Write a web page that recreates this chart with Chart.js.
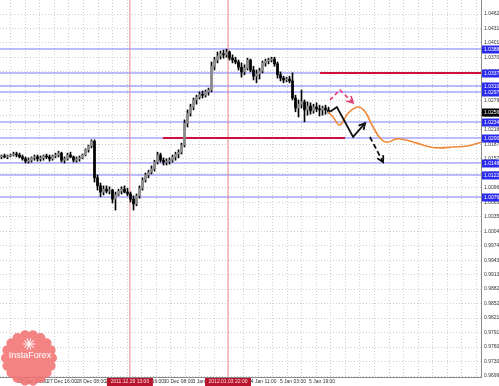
<!DOCTYPE html>
<html>
<head>
<meta charset="utf-8">
<script src="https://cdn.jsdelivr.net/npm/chart.js@4.4.1/dist/chart.umd.min.js"></script>
<style>
  html, body { margin: 0; padding: 0; background: #fff; }
  canvas { display: block; background: #fff; }
</style>
</head>
<body>
<canvas id="chart" width="499" height="386"></canvas>
<script>
// H1 candles, one entry per bar
const opens = [
  1.0161, 1.0163, 1.0161, 1.0163, 1.0165, 1.0167, 1.0165, 1.0161, 1.0157, 1.0152,
  1.0154, 1.0159, 1.0161, 1.0157, 1.0159, 1.0163, 1.0161, 1.0157, 1.0163, 1.0165,
  1.0169, 1.0154, 1.0157, 1.0165, 1.0161, 1.0154, 1.0157, 1.0159, 1.0165, 1.0176,
  1.0184, 1.0194, 1.0117, 1.0100, 1.0087, 1.0093, 1.0089, 1.0091, 1.0072, 1.0081,
  1.0089, 1.0093, 1.0087, 1.0083, 1.0072, 1.0062, 1.0079, 1.0095, 1.0112, 1.0123,
  1.0129, 1.0136, 1.0150, 1.0165, 1.0154, 1.0150, 1.0152, 1.0154, 1.0161, 1.0167,
  1.0171, 1.0186, 1.0232, 1.0253, 1.0266, 1.0281, 1.0287, 1.0293, 1.0291, 1.0298,
  1.0302, 1.0352, 1.0365, 1.0374, 1.0378, 1.0376, 1.0382, 1.0369, 1.0365, 1.0361,
  1.0350, 1.0340, 1.0348, 1.0365, 1.0344, 1.0331, 1.0336, 1.0342, 1.0359, 1.0363,
  1.0365, 1.0367, 1.0357, 1.0334, 1.0327, 1.0323, 1.0325, 1.0321, 1.0285, 1.0264,
  1.0272, 1.0277, 1.0260, 1.0268, 1.0258, 1.0266, 1.0262, 1.0260, 1.0264, 1.0260
];
const highs = [
  1.0165, 1.0167, 1.0165, 1.0167, 1.0171, 1.0171, 1.0169, 1.0165, 1.0161, 1.0159,
  1.0161, 1.0165, 1.0165, 1.0163, 1.0165, 1.0167, 1.0165, 1.0165, 1.0169, 1.0173,
  1.0171, 1.0161, 1.0169, 1.0171, 1.0163, 1.0161, 1.0163, 1.0167, 1.0178, 1.0186,
  1.0197, 1.0197, 1.0123, 1.0106, 1.0100, 1.0100, 1.0098, 1.0093, 1.0087, 1.0093,
  1.0098, 1.0100, 1.0095, 1.0087, 1.0079, 1.0083, 1.0100, 1.0117, 1.0127, 1.0133,
  1.0142, 1.0154, 1.0171, 1.0169, 1.0159, 1.0157, 1.0159, 1.0165, 1.0171, 1.0176,
  1.0190, 1.0239, 1.0260, 1.0272, 1.0285, 1.0291, 1.0298, 1.0300, 1.0302, 1.0306,
  1.0361, 1.0371, 1.0382, 1.0384, 1.0386, 1.0388, 1.0384, 1.0376, 1.0371, 1.0365,
  1.0359, 1.0355, 1.0369, 1.0367, 1.0352, 1.0344, 1.0348, 1.0363, 1.0367, 1.0369,
  1.0371, 1.0371, 1.0361, 1.0340, 1.0331, 1.0329, 1.0331, 1.0338, 1.0291, 1.0281,
  1.0302, 1.0281, 1.0277, 1.0275, 1.0272, 1.0275, 1.0270, 1.0268, 1.0270, 1.0266
];
const lows = [
  1.0157, 1.0159, 1.0157, 1.0161, 1.0163, 1.0161, 1.0159, 1.0154, 1.0148, 1.0148,
  1.0150, 1.0154, 1.0152, 1.0152, 1.0154, 1.0157, 1.0152, 1.0154, 1.0159, 1.0161,
  1.0150, 1.0148, 1.0154, 1.0159, 1.0150, 1.0150, 1.0152, 1.0157, 1.0163, 1.0171,
  1.0180, 1.0108, 1.0091, 1.0077, 1.0081, 1.0085, 1.0083, 1.0064, 1.0049, 1.0079,
  1.0083, 1.0085, 1.0079, 1.0066, 1.0049, 1.0058, 1.0074, 1.0091, 1.0108, 1.0117,
  1.0125, 1.0131, 1.0146, 1.0150, 1.0144, 1.0144, 1.0146, 1.0150, 1.0154, 1.0159,
  1.0167, 1.0182, 1.0224, 1.0247, 1.0260, 1.0272, 1.0283, 1.0285, 1.0287, 1.0291,
  1.0298, 1.0344, 1.0359, 1.0367, 1.0369, 1.0371, 1.0365, 1.0359, 1.0357, 1.0344,
  1.0329, 1.0334, 1.0344, 1.0340, 1.0323, 1.0317, 1.0325, 1.0338, 1.0352, 1.0357,
  1.0361, 1.0352, 1.0327, 1.0321, 1.0317, 1.0319, 1.0317, 1.0281, 1.0256, 1.0245,
  1.0264, 1.0235, 1.0249, 1.0251, 1.0253, 1.0256, 1.0247, 1.0249, 1.0251, 1.0253
];
const closes = [
  1.0163, 1.0161, 1.0163, 1.0165, 1.0167, 1.0165, 1.0161, 1.0157, 1.0152, 1.0154,
  1.0159, 1.0161, 1.0157, 1.0159, 1.0163, 1.0161, 1.0157, 1.0163, 1.0165, 1.0169,
  1.0154, 1.0157, 1.0165, 1.0161, 1.0154, 1.0157, 1.0159, 1.0165, 1.0176, 1.0184,
  1.0194, 1.0117, 1.0100, 1.0087, 1.0093, 1.0089, 1.0091, 1.0072, 1.0081, 1.0089,
  1.0093, 1.0087, 1.0083, 1.0072, 1.0062, 1.0079, 1.0095, 1.0112, 1.0123, 1.0129,
  1.0136, 1.0150, 1.0165, 1.0154, 1.0150, 1.0152, 1.0154, 1.0161, 1.0167, 1.0171,
  1.0186, 1.0232, 1.0253, 1.0266, 1.0281, 1.0287, 1.0293, 1.0291, 1.0298, 1.0302,
  1.0352, 1.0365, 1.0374, 1.0378, 1.0376, 1.0382, 1.0369, 1.0365, 1.0361, 1.0350,
  1.0340, 1.0348, 1.0365, 1.0344, 1.0331, 1.0336, 1.0342, 1.0359, 1.0363, 1.0365,
  1.0367, 1.0357, 1.0334, 1.0327, 1.0323, 1.0325, 1.0321, 1.0285, 1.0264, 1.0272,
  1.0277, 1.0260, 1.0268, 1.0258, 1.0266, 1.0262, 1.0260, 1.0264, 1.0260, 1.0256
];

// price axis labels
const yTicks = [
  1.04620, 1.04315, 1.04010, 1.03705, 1.03400, 1.03095, 1.02790, 1.02485, 1.02180,
  1.01875, 1.01570, 1.01265, 1.00960, 1.00655, 1.00350, 1.00045, 0.99740, 0.99435,
  0.99130, 0.98825, 0.98520, 0.98215, 0.97910, 0.97605, 0.97300, 0.96995
];
// time axis labels (positions in bars)
const xTickPos = [5.5, 15.2, 24.9, 34.6, 44.3, 54.0, 63.7, 73.4, 83.1, 92.8, 102.5];
const xTickLabels = [
  '27 Dec 00:00', '27 Dec 16:00', '28 Dec 08:00', '29 Dec 00:00', '29 Dec 16:00',
  '30 Dec 08:00', '3 Jan 03:00', '3 Jan 19:00', '4 Jan 11:00', '5 Jan 03:00', '5 Jan 19:00'
];

// horizontal levels (blue), the two red ones, and the current price
const levels = [1.03883, 1.03377, 1.03104, 1.02977, 1.02345, 1.02008, 1.01482, 1.01229, 1.00765];
const resistance = { price: 1.03377, from: 106.2 };
const support = { price: 1.02008, from: 53.8, to: 114.5 };
const lastPrice = 1.0256;

// vertical cursor lines
const cursorPos = [42.8, 75.5];
const cursorLabels = ['2011.12.29 13:00', '2012.01.03 22:00'];

// forecast drawings
const zigzagX = [109.5, 111.8, 117.2, 121.2];
const zigzagY = [1.0256, 1.0266, 1.0203, 1.0232];
const dashX = [122.8, 127.2];
const dashY = [1.0203, 1.0150];
const pinkX = [109.5, 112.8, 117.2];
const pinkY = [1.0281, 1.0302, 1.0275];
const curveX = [108.8, 110.5, 112.8, 115.5, 118.8, 121.2, 123.5, 126.2, 128.5, 131.8,
  134.5, 138.5, 142.8, 146.2, 150.5, 155.2, 159.8];
const curveY = [1.0256, 1.0245, 1.0228, 1.0253, 1.0266, 1.0256, 1.0228, 1.0201, 1.0192, 1.0199,
  1.0197, 1.0190, 1.0182, 1.0180, 1.0182, 1.0184, 1.0192];

const X_MIN = -0.5, X_MAX = 159.83;
const Y_MIN = 0.96974, Y_MAX = 1.04915;
const FONT = '"Liberation Sans", Arial, sans-serif';

const pts = (xs, ys) => xs.map((x, i) => ({ x: x, y: ys[i] }));
const hline = (v, a, b) => [{ x: a, y: v }, { x: b, y: v }];

// order: higher number is drawn first (underneath)
const datasets = [];

levels.forEach(v => {
  datasets.push({
    type: 'line', order: 6, data: hline(v, X_MIN, X_MAX),
    borderColor: '#7b7bff', borderWidth: 1, pointRadius: 0
  });
});
cursorPos.forEach(p => {
  datasets.push({
    type: 'line', order: 5, data: [{ x: p, y: Y_MIN }, { x: p, y: Y_MAX }],
    borderColor: '#e88a8a', borderWidth: 1, pointRadius: 0
  });
});
datasets.push({
  type: 'line', order: 4, data: hline(resistance.price, resistance.from, X_MAX),
  borderColor: '#d0103a', borderWidth: 2, pointRadius: 0
});
datasets.push({
  type: 'line', order: 4, data: hline(support.price, support.from, support.to),
  borderColor: '#d0103a', borderWidth: 2, pointRadius: 0
});

// candles: wick + body as floating bars
datasets.push({
  type: 'bar', order: 3, grouped: false,
  data: opens.map((o, i) => ({ x: i, y: [lows[i], highs[i]] })),
  backgroundColor: '#000', barThickness: 1, minBarLength: 1
});
datasets.push({
  type: 'bar', order: 2, grouped: false,
  data: opens.map((o, i) => ({ x: i, y: [o, closes[i]] })),
  backgroundColor: opens.map((o, i) => closes[i] > o ? '#8c8c8c' : '#000'),
  barThickness: 2, minBarLength: 1
});

datasets.push({
  type: 'line', order: 1, data: pts(curveX, curveY),
  borderColor: '#f08a3a', borderWidth: 1.6, pointRadius: 0, tension: 0.4
});
datasets.push({
  type: 'line', order: 0, data: pts(pinkX, pinkY), arrow: true,
  borderColor: '#e83a6e', borderWidth: 1.6, borderDash: [4, 3], pointRadius: 0
});
datasets.push({
  type: 'line', order: 0, data: pts(zigzagX, zigzagY), arrow: true,
  borderColor: '#111', borderWidth: 1.8, pointRadius: 0
});
datasets.push({
  type: 'line', order: 0, data: pts(dashX, dashY), arrow: true,
  borderColor: '#111', borderWidth: 1.8, borderDash: [5, 3], pointRadius: 0
});

const arrowHeads = {
  id: 'arrowHeads',
  afterDatasetsDraw(chart) {
    const ctx = chart.ctx;
    chart.data.datasets.forEach((ds, i) => {
      if (!ds.arrow) return;
      const el = chart.getDatasetMeta(i).data;
      const a = el[el.length - 2], b = el[el.length - 1];
      const ang = Math.atan2(b.y - a.y, b.x - a.x);
      ctx.save();
      ctx.strokeStyle = ds.borderColor;
      ctx.lineWidth = ds.borderWidth;
      ctx.beginPath();
      ctx.moveTo(b.x - 7 * Math.cos(ang - 0.5), b.y - 7 * Math.sin(ang - 0.5));
      ctx.lineTo(b.x, b.y);
      ctx.lineTo(b.x - 7 * Math.cos(ang + 0.5), b.y - 7 * Math.sin(ang + 0.5));
      ctx.stroke();
      ctx.restore();
    });
  }
};

const tags = {
  id: 'tags',
  afterDraw(chart) {
    const { ctx, chartArea, scales: { x, y } } = chart;
    ctx.save();
    ctx.font = '5px ' + FONT;
    ctx.textBaseline = 'middle';
    ctx.textAlign = 'left';
    // level boxes on the price axis
    levels.forEach(v => {
      const py = Math.round(y.getPixelForValue(v));
      ctx.fillStyle = '#2b2bf0';
      ctx.fillRect(chartArea.right + 1, py - 3.5, 30, 8);
      ctx.fillStyle = '#fff';
      ctx.fillText(v.toFixed(5), chartArea.right + 3, py + 0.5);
    });
    const lp = Math.round(y.getPixelForValue(lastPrice));
    ctx.fillStyle = '#000';
    ctx.fillRect(chartArea.right + 1, lp - 3.5, 30, 8);
    ctx.fillStyle = '#fff';
    ctx.fillText(lastPrice.toFixed(5), chartArea.right + 3, lp + 0.5);

    // cursor date boxes on the time axis
    ctx.textAlign = 'center';
    cursorPos.forEach((p, i) => {
      const px = x.getPixelForValue(p);
      ctx.fillStyle = '#b8142e';
      ctx.fillRect(px - 23, chartArea.bottom + 1, 46, 8);
      ctx.fillStyle = '#fbe0e4';
      ctx.fillText(cursorLabels[i], px, chartArea.bottom + 5);
    });

    // InstaForex badge
    const cx = 29, cy = 358, r = 23;
    ctx.fillStyle = 'rgba(242, 110, 110, 0.85)';
    ctx.beginPath();
    for (let k = 0; k < 18; k++) {
      const a = k / 18 * Math.PI * 2;
      const bx = cx + r * Math.cos(a), by = cy + r * Math.sin(a);
      ctx.moveTo(bx + 5, by);
      ctx.arc(bx, by, 5, 0, Math.PI * 2);
    }
    ctx.moveTo(cx + r, cy);
    ctx.arc(cx, cy, r, 0, Math.PI * 2);
    ctx.fill();
    ctx.strokeStyle = '#fff';
    ctx.lineWidth = 1;
    ctx.beginPath();
    for (let k = 0; k < 10; k++) {
      const a = k / 10 * Math.PI * 2;
      ctx.moveTo(cx, cy - 14);
      ctx.lineTo(cx + 6 * Math.cos(a), cy - 14 + 6 * Math.sin(a));
    }
    ctx.stroke();
    ctx.fillStyle = '#fff';
    ctx.font = '9px ' + FONT;
    ctx.fillText('InstaForex', cx + 1, cy - 2);
    ctx.restore();
  }
};

new Chart(document.getElementById('chart'), {
  type: 'bar',
  data: { datasets: datasets },
  options: {
    responsive: false,
    animation: false,
    devicePixelRatio: 1,
    layout: { padding: 0, autoPadding: false },
    plugins: { legend: { display: false }, tooltip: { enabled: false } },
    scales: {
      x: {
        type: 'linear', min: X_MIN, max: X_MAX, offset: false,
        grid: { color: '#cfcfcf', drawTicks: false },
        border: { color: '#8a8a8a', dash: [1, 2] },
        ticks: {
          autoSkip: false, maxRotation: 0, align: 'start', padding: 2,
          color: '#333', font: { size: 5, family: FONT },
          callback: (v) => {
            const k = xTickPos.indexOf(v);
            return k < 0 ? '' : xTickLabels[k];
          }
        },
        afterBuildTicks: (s) => {
          const step = (xTickPos[1] - xTickPos[0]) / 2;
          const list = [];
          for (let p = xTickPos[0] - step; p <= X_MAX; p += step) {
            const hit = xTickPos.find(t => Math.abs(t - p) < 0.01);
            list.push({ value: hit !== undefined ? hit : p });
          }
          s.ticks = list;
        },
        afterFit: (s) => { s.height = 9; s.paddingLeft = 0; s.paddingRight = 0; }
      },
      y: {
        type: 'linear', position: 'right', min: Y_MIN, max: Y_MAX,
        grid: { color: '#cfcfcf', drawTicks: false },
        border: { color: '#8a8a8a', dash: [1, 2] },
        ticks: {
          padding: 3, color: '#333',
          font: { size: 5, family: FONT },
          callback: (v) => v.toFixed(5)
        },
        afterBuildTicks: (s) => { s.ticks = yTicks.map(v => ({ value: v })); },
        afterFit: (s) => { s.width = 18; s.paddingTop = 0; s.paddingBottom = 0; }
      }
    }
  },
  plugins: [arrowHeads, tags]
});
</script>
</body>
</html>
